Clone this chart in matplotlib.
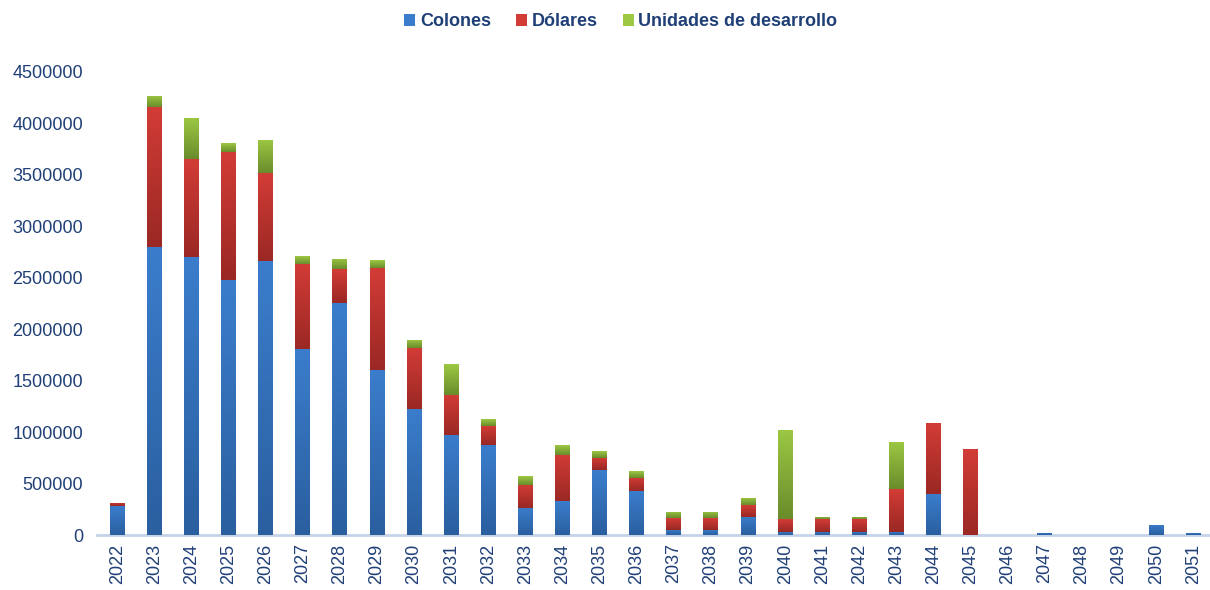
import numpy as np
import matplotlib
matplotlib.use("Agg")
import matplotlib.pyplot as plt
from matplotlib.colors import LinearSegmentedColormap
from matplotlib.patches import Patch

# Vencimientos por año y moneda
YEARS = [str(y) for y in range(2022, 2052)]

COLONES = [280000, 2800000, 2705000, 2478000, 2660000, 1808000, 2252000,
           1604000, 1221000, 972000, 872000, 265000, 330000, 631000, 427000,
           52000, 52000, 177000, 34000, 34000, 34000, 34000, 398000, 0, 0,
           20000, 0, 0, 100000, 20000]

DOLARES = [30000, 1356000, 952000, 1247000, 855000, 829000, 330000, 991000,
           599000, 389000, 190000, 224000, 450000, 119000, 130000, 113000,
           113000, 113000, 118000, 118000, 118000, 412000, 689000, 832000, 0,
           0, 0, 0, 0, 0]

UDES = [0, 114000, 399000, 85000, 324000, 77000, 104000, 77000, 78000,
        301000, 65000, 81000, 94000, 63000, 65000, 61000, 61000, 69000,
        868000, 23000, 23000, 457000, 0, 0, 0, 0, 0, 0, 0, 0]

SERIES = ["Colones", "Dólares", "Unidades de desarrollo"]

# (light top, dark bottom) for each series
SHADES = [("#3b7dcc", "#2a5f9f"), ("#d33c36", "#9a2824"), ("#9cc843", "#6a8c2c")]
NAVY = "#1f3f77"

fig = plt.figure(figsize=(12.1, 5.9), dpi=100)
ax = fig.add_axes([0.08, 0.093, 0.92, 0.785])

x = np.arange(len(YEARS))
width = 0.4
bottom = np.zeros(len(YEARS))
grad = np.linspace(1, 0, 256).reshape(-1, 1)

for vals, (light, dark) in zip([COLONES, DOLARES, UDES], SHADES):
    vals = np.array(vals, dtype=float)
    bars = ax.bar(x, vals, width, bottom=bottom, color=light, linewidth=0,
                  zorder=2)
    cmap = LinearSegmentedColormap.from_list("g", [dark, light])
    for b in bars:
        h = b.get_height()
        if h <= 0:
            continue
        x0 = b.get_x()
        y0 = b.get_y()
        im = ax.imshow(grad, cmap=cmap, aspect="auto", zorder=3,
                       extent=[x0, x0 + b.get_width(), y0, y0 + h],
                       interpolation="bilinear")
        im.set_clip_path(b)
    bottom += vals

ax.set_xlim(-0.55, 29.45)
ax.set_ylim(0, 4500000)
ax.set_yticks(np.arange(0, 4500001, 500000))
ax.set_yticklabels([str(int(v)) for v in np.arange(0, 4500001, 500000)])
ax.set_xticks(x)
ax.set_xticklabels(YEARS, rotation=90)

for s in ["top", "right", "left"]:
    ax.spines[s].set_visible(False)
ax.spines["bottom"].set_color("#c5d3e8")
ax.spines["bottom"].set_linewidth(2)
ax.tick_params(axis="both", length=0, colors=NAVY, labelsize=13, pad=6)
ax.tick_params(axis="y", pad=10)
for lab in ax.get_xticklabels() + ax.get_yticklabels():
    lab.set_fontfamily(["Liberation Sans", "DejaVu Sans"])
    lab.set_color(NAVY)

handles = [Patch(facecolor=SHADES[i][0], edgecolor="none", label=SERIES[i])
           for i in range(3)]
leg = fig.legend(handles=handles, loc="upper center",
                 bbox_to_anchor=(0.513, 1.005), ncol=3, frameon=False,
                 handlelength=0.6, handleheight=0.6, handletextpad=0.25,
                 columnspacing=1.4,
                 prop={"family": ["Liberation Sans", "DejaVu Sans"],
                       "weight": "bold", "size": 13})
for t in leg.get_texts():
    t.set_color(NAVY)

fig.savefig("out.png", dpi=100)
